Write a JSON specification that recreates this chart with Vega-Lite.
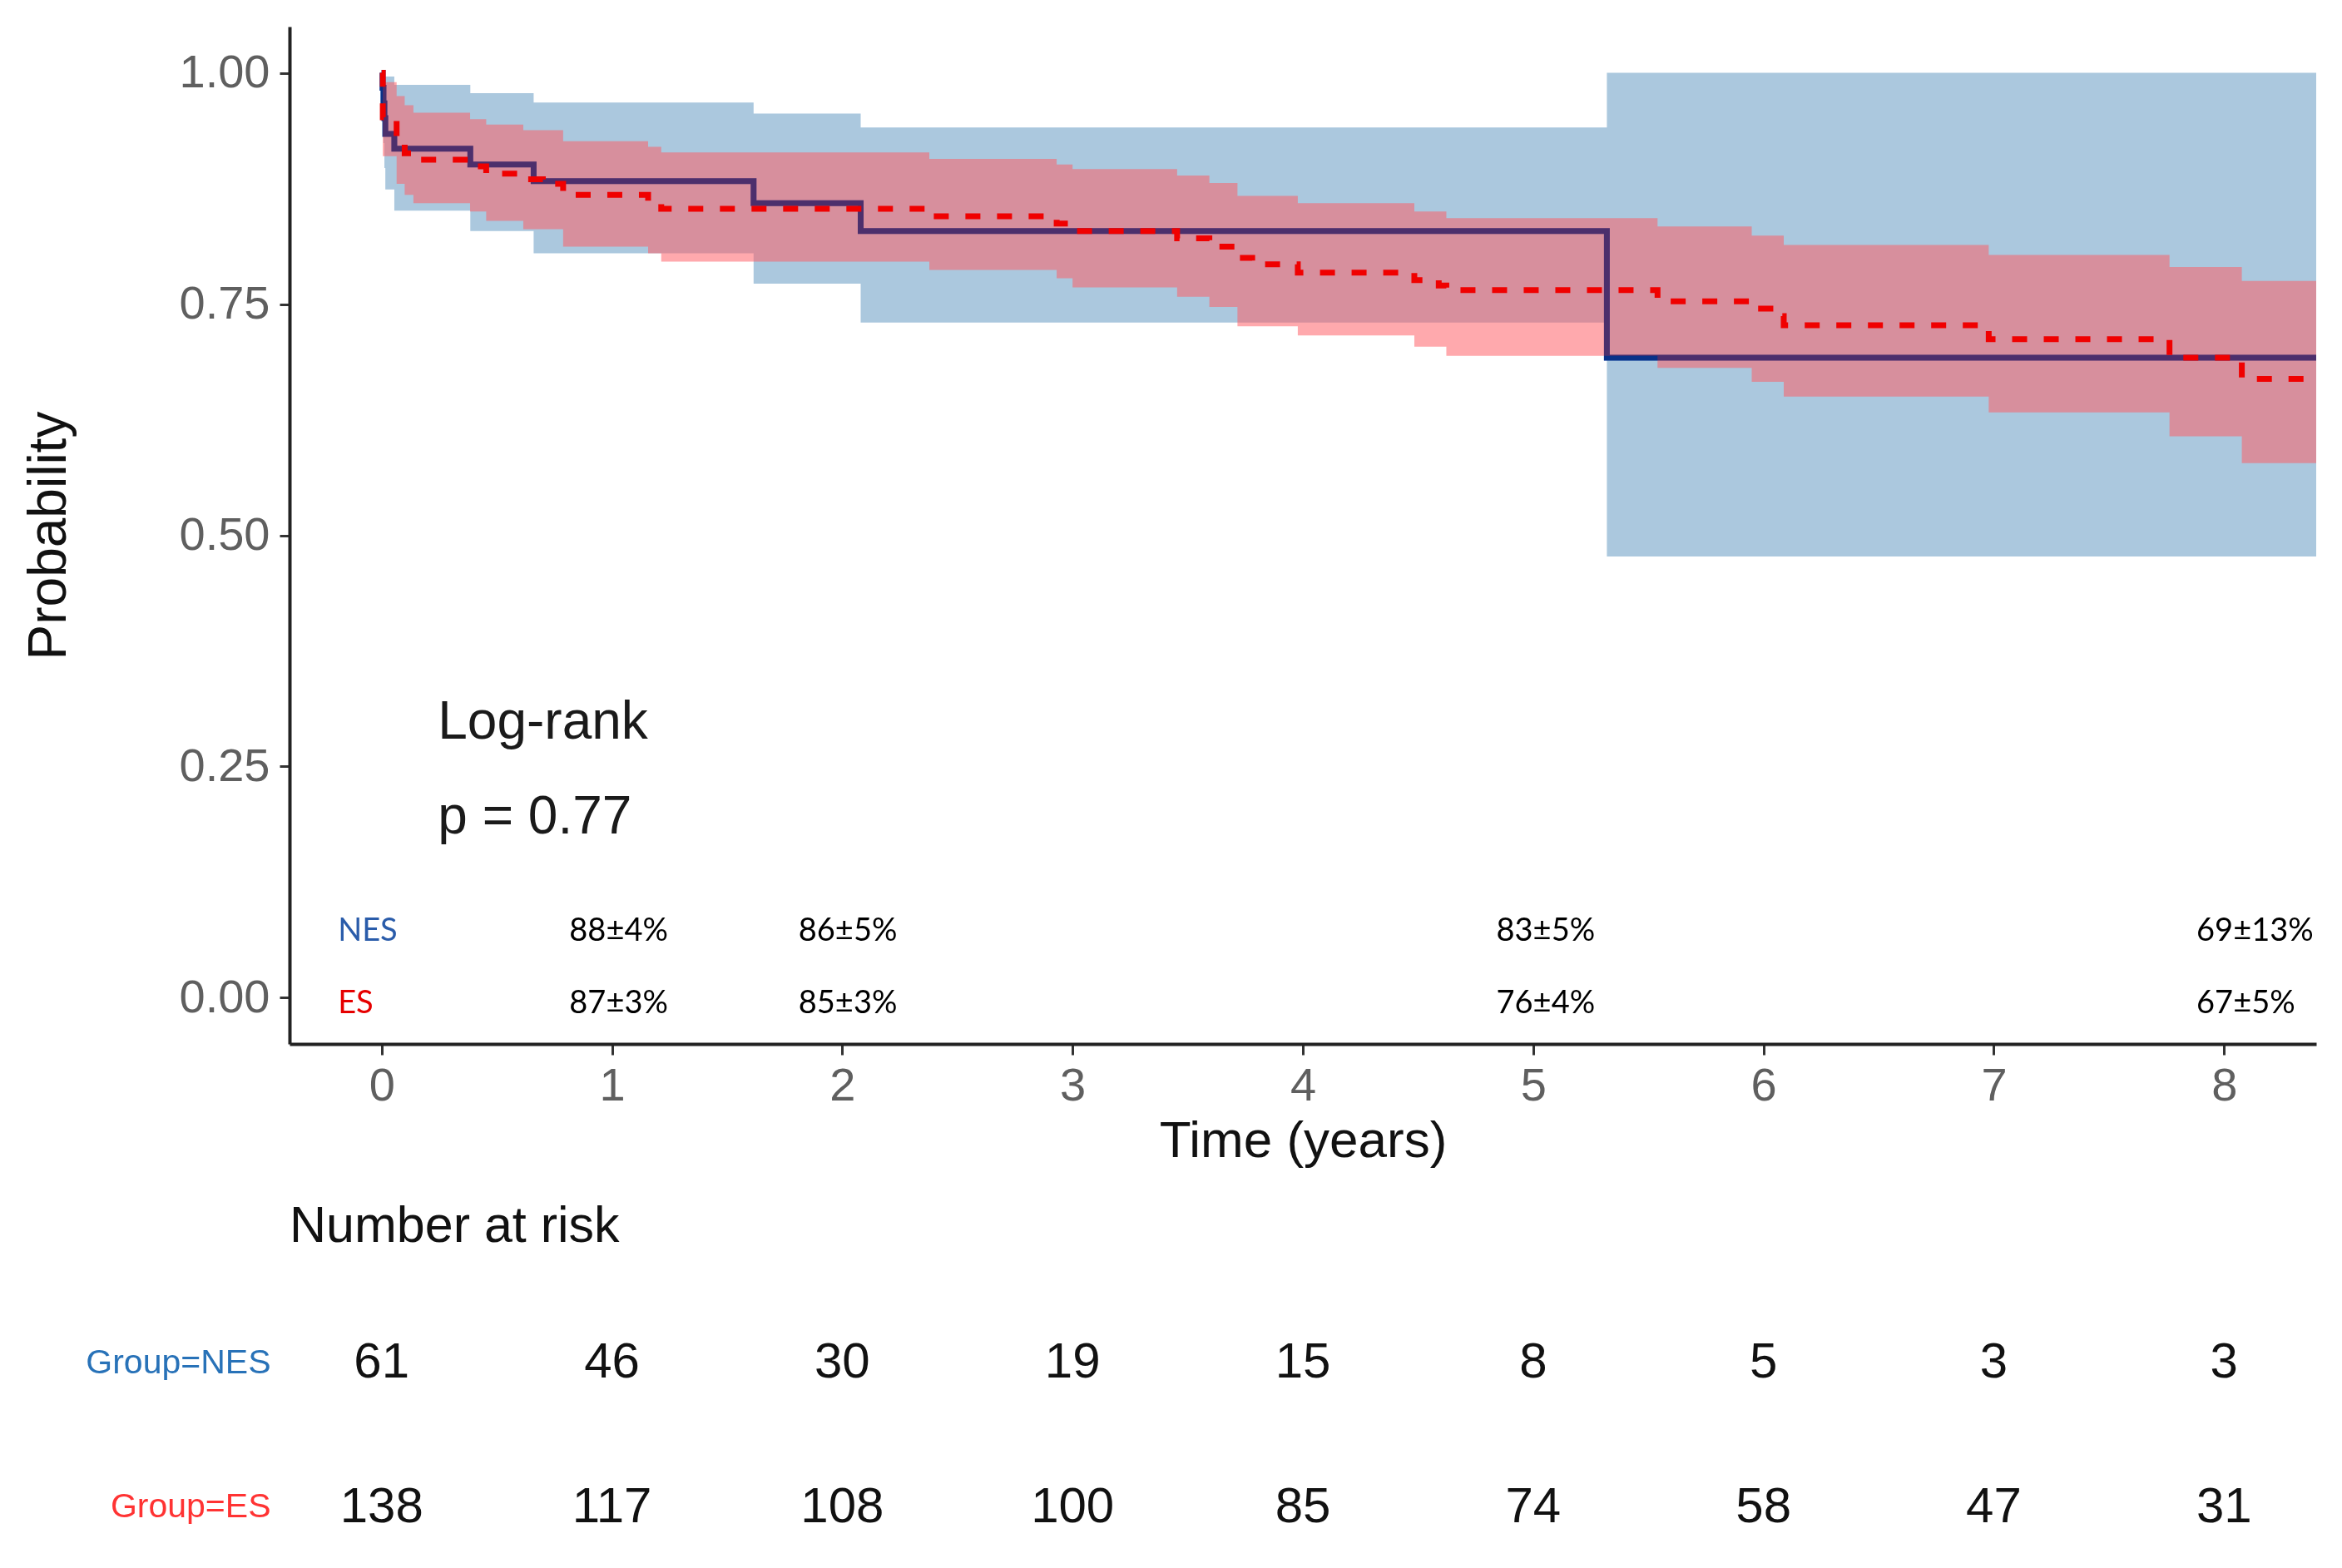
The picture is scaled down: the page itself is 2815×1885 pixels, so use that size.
{
  "$schema": "https://vega.github.io/schema/vega-lite/v6.json",
  "background": "white",
  "padding": {"left": 27, "top": 32, "right": 10, "bottom": 0},
  "bounds": "flush",
  "spacing": 330,
  "config": {
    "view": {"stroke": null},
    "font": "Liberation Sans",
    "axis": {"grid": false, "labelFont": "Liberation Sans", "titleFont": "Liberation Sans", "titleFontWeight": "normal"},
    "title": {"font": "Liberation Sans", "fontWeight": "normal"}
  },
  "datasets": {
    "nes": [
      {"t": 0.0, "s": 1.0, "lo": 1.0, "hi": 1.0},
      {"t": 0.004, "s": 0.984, "lo": 0.952, "hi": 1.0},
      {"t": 0.008, "s": 0.967, "lo": 0.924, "hi": 1.0},
      {"t": 0.012, "s": 0.951, "lo": 0.897, "hi": 1.0},
      {"t": 0.016, "s": 0.934, "lo": 0.874, "hi": 0.996},
      {"t": 0.055, "s": 0.918, "lo": 0.851, "hi": 0.987},
      {"t": 0.385, "s": 0.901, "lo": 0.829, "hi": 0.978},
      {"t": 0.66, "s": 0.883, "lo": 0.805, "hi": 0.968},
      {"t": 1.615, "s": 0.859, "lo": 0.772, "hi": 0.956},
      {"t": 2.08, "s": 0.829, "lo": 0.73, "hi": 0.941},
      {"t": 5.32, "s": 0.692, "lo": 0.477, "hi": 1.0},
      {"t": 8.4, "s": 0.692, "lo": 0.477, "hi": 1.0}
    ],
    "es": [
      {"t": 0.0, "s": 1.0, "lo": 1.0, "hi": 1.0},
      {"t": 0.005, "s": 0.952, "lo": 0.91, "hi": 0.99},
      {"t": 0.065, "s": 0.925, "lo": 0.88, "hi": 0.975},
      {"t": 0.1, "s": 0.913, "lo": 0.868, "hi": 0.965},
      {"t": 0.138, "s": 0.906, "lo": 0.859, "hi": 0.957},
      {"t": 0.384, "s": 0.899, "lo": 0.85, "hi": 0.95},
      {"t": 0.454, "s": 0.891, "lo": 0.84, "hi": 0.944},
      {"t": 0.615, "s": 0.885, "lo": 0.831, "hi": 0.938},
      {"t": 0.7, "s": 0.88, "lo": 0.831, "hi": 0.938},
      {"t": 0.788, "s": 0.868, "lo": 0.812, "hi": 0.926},
      {"t": 1.157, "s": 0.86, "lo": 0.805, "hi": 0.92},
      {"t": 1.214, "s": 0.853, "lo": 0.796, "hi": 0.914},
      {"t": 2.378, "s": 0.845, "lo": 0.787, "hi": 0.907},
      {"t": 2.931, "s": 0.837, "lo": 0.778, "hi": 0.901},
      {"t": 3.0, "s": 0.829, "lo": 0.768, "hi": 0.896},
      {"t": 3.454, "s": 0.821, "lo": 0.758, "hi": 0.889},
      {"t": 3.594, "s": 0.812, "lo": 0.747, "hi": 0.881},
      {"t": 3.716, "s": 0.8, "lo": 0.726, "hi": 0.867},
      {"t": 3.78, "s": 0.793, "lo": 0.726, "hi": 0.867},
      {"t": 3.978, "s": 0.784, "lo": 0.716, "hi": 0.859},
      {"t": 4.484, "s": 0.776, "lo": 0.704, "hi": 0.85},
      {"t": 4.59, "s": 0.77, "lo": 0.704, "hi": 0.85},
      {"t": 4.623, "s": 0.765, "lo": 0.694, "hi": 0.843},
      {"t": 5.54, "s": 0.753, "lo": 0.681, "hi": 0.834},
      {"t": 5.949, "s": 0.745, "lo": 0.666, "hi": 0.824},
      {"t": 6.03, "s": 0.737, "lo": 0.666, "hi": 0.824},
      {"t": 6.088, "s": 0.727, "lo": 0.65, "hi": 0.814},
      {"t": 6.978, "s": 0.712, "lo": 0.633, "hi": 0.803},
      {"t": 7.763, "s": 0.692, "lo": 0.607, "hi": 0.79},
      {"t": 8.077, "s": 0.669, "lo": 0.578, "hi": 0.775},
      {"t": 8.4, "s": 0.669, "lo": 0.578, "hi": 0.775}
    ],
    "notes": [
      {"t": 0.244, "y": 0.297, "label": "Log-rank"},
      {"t": 0.244, "y": 0.195, "label": "p = 0.77"}
    ],
    "labels": [
      {"t": -0.19, "y": 0.071, "label": "NES", "kind": "NES"},
      {"t": -0.19, "y": -0.007, "label": "ES", "kind": "ES"},
      {"t": 0.815, "y": 0.071, "label": "88±4%", "kind": "val"},
      {"t": 0.815, "y": -0.007, "label": "87±3%", "kind": "val"},
      {"t": 1.81, "y": 0.071, "label": "86±5%", "kind": "val"},
      {"t": 1.81, "y": -0.007, "label": "85±3%", "kind": "val"},
      {"t": 4.84, "y": 0.071, "label": "83±5%", "kind": "val"},
      {"t": 4.84, "y": -0.007, "label": "76±4%", "kind": "val"},
      {"t": 7.88, "y": 0.071, "label": "69±13%", "kind": "val"},
      {"t": 7.88, "y": -0.007, "label": "67±5%", "kind": "val"}
    ],
    "risk": [
      {"t": 0, "grp": "NES", "n": 61}, {"t": 1, "grp": "NES", "n": 46}, {"t": 2, "grp": "NES", "n": 30},
      {"t": 3, "grp": "NES", "n": 19}, {"t": 4, "grp": "NES", "n": 15}, {"t": 5, "grp": "NES", "n": 8},
      {"t": 6, "grp": "NES", "n": 5}, {"t": 7, "grp": "NES", "n": 3}, {"t": 8, "grp": "NES", "n": 3},
      {"t": 0, "grp": "ES", "n": 138}, {"t": 1, "grp": "ES", "n": 117}, {"t": 2, "grp": "ES", "n": 108},
      {"t": 3, "grp": "ES", "n": 100}, {"t": 4, "grp": "ES", "n": 85}, {"t": 5, "grp": "ES", "n": 74},
      {"t": 6, "grp": "ES", "n": 58}, {"t": 7, "grp": "ES", "n": 47}, {"t": 8, "grp": "ES", "n": 31}
    ]
  },
  "resolve": {"scale": {"x": "independent", "y": "independent"}},
  "vconcat": [
    {
      "width": 2436,
      "height": 1223,
      "layer": [
        {
          "data": {"name": "nes"},
          "mark": {"type": "area", "interpolate": "step-after", "color": "#0F62A1", "opacity": 0.35},
          "encoding": {
            "x": {"field": "t", "type": "quantitative", "title": "Time (years)",
              "scale": {"domain": [-0.4, 8.4], "nice": false, "zero": false},
              "axis": {"values": [0, 1, 2, 3, 4, 5, 6, 7, 8], "format": "d", "labelFontSize": 56, "labelColor": "#5f5f5f",
                "tickSize": 13, "tickWidth": 3, "tickColor": "#333333", "domainColor": "#222222", "domainWidth": 4,
                "labelPadding": 10, "titleFontSize": 62, "titleColor": "#111111", "titlePadding": 8}},
            "y": {"field": "lo", "type": "quantitative", "title": "Probability",
              "scale": {"domain": [-0.05, 1.05], "nice": false, "zero": false},
              "axis": {"values": [0, 0.25, 0.5, 0.75, 1], "format": ".2f", "labelFontSize": 56, "labelColor": "#5f5f5f",
                "tickSize": 12, "tickWidth": 3, "tickColor": "#333333", "domainColor": "#222222", "domainWidth": 4,
                "labelPadding": 12, "titleFontSize": 64, "titleColor": "#111111", "titlePadding": 124}},
            "y2": {"field": "hi"}
          }
        },
        {
          "data": {"name": "nes"},
          "mark": {"type": "line", "interpolate": "step-after", "color": "#0F62A1", "strokeWidth": 7},
          "encoding": {
            "x": {"field": "t", "type": "quantitative", "title": "Time (years)", "scale": {"domain": [-0.4, 8.4], "nice": false, "zero": false}},
            "y": {"field": "s", "type": "quantitative", "title": "Probability", "scale": {"domain": [-0.05, 1.05], "nice": false, "zero": false}}
          }
        },
        {
          "data": {"name": "es"},
          "mark": {"type": "area", "interpolate": "step-after", "color": "#FF5B62", "opacity": 0.52},
          "encoding": {
            "x": {"field": "t", "type": "quantitative", "title": "Time (years)", "scale": {"domain": [-0.4, 8.4], "nice": false, "zero": false}},
            "y": {"field": "lo", "type": "quantitative", "title": "Probability", "scale": {"domain": [-0.05, 1.05], "nice": false, "zero": false}},
            "y2": {"field": "hi"}
          }
        },
        {
          "data": {"name": "nes"},
          "mark": {"type": "line", "interpolate": "step-after", "color": "#8a80d8", "strokeWidth": 7, "blend": "multiply"},
          "encoding": {
            "x": {"field": "t", "type": "quantitative", "title": "Time (years)", "scale": {"domain": [-0.4, 8.4], "nice": false, "zero": false}},
            "y": {"field": "s", "type": "quantitative", "title": "Probability", "scale": {"domain": [-0.05, 1.05], "nice": false, "zero": false}}
          }
        },
        {
          "data": {"name": "es"},
          "mark": {"type": "line", "interpolate": "step-after", "color": "#F00000", "strokeWidth": 7, "strokeDash": [18, 20]},
          "encoding": {
            "x": {"field": "t", "type": "quantitative", "title": "Time (years)", "scale": {"domain": [-0.4, 8.4], "nice": false, "zero": false}},
            "y": {"field": "s", "type": "quantitative", "title": "Probability", "scale": {"domain": [-0.05, 1.05], "nice": false, "zero": false}}
          }
        },
        {
          "data": {"name": "notes"},
          "mark": {"type": "text", "align": "left", "baseline": "middle", "fontSize": 64, "font": "Liberation Sans", "color": "#1a1a1a"},
          "encoding": {
            "x": {"field": "t", "type": "quantitative", "title": "Time (years)", "scale": {"domain": [-0.4, 8.4], "nice": false, "zero": false}},
            "y": {"field": "y", "type": "quantitative", "title": "Probability", "scale": {"domain": [-0.05, 1.05], "nice": false, "zero": false}},
            "text": {"field": "label"}
          }
        },
        {
          "data": {"name": "labels"},
          "mark": {"type": "text", "align": "left", "baseline": "middle", "fontSize": 38, "font": "Lato"},
          "encoding": {
            "x": {"field": "t", "type": "quantitative", "title": "Time (years)", "scale": {"domain": [-0.4, 8.4], "nice": false, "zero": false}},
            "y": {"field": "y", "type": "quantitative", "title": "Probability", "scale": {"domain": [-0.05, 1.05], "nice": false, "zero": false}},
            "text": {"field": "label"},
            "color": {"field": "kind", "type": "nominal", "legend": null,
              "scale": {"domain": ["NES", "ES", "val"], "range": ["#2a5caa", "#e60000", "#000000"]}}
          }
        }
      ]
    },
    {
      "width": 2436,
      "height": 280,
      "title": {"text": "Number at risk", "anchor": "start", "frame": "group", "fontSize": 61, "color": "#111111", "offset": 79},
      "data": {"name": "risk"},
      "mark": {"type": "text", "fontSize": 60, "font": "Liberation Sans", "color": "#111111", "baseline": "middle"},
      "encoding": {
        "x": {"field": "t", "type": "quantitative", "scale": {"domain": [-0.4, 8.4], "nice": false, "zero": false}, "axis": null},
        "y": {"field": "grp", "type": "nominal", "sort": ["NES", "ES"], "title": null,
          "scale": {"type": "point", "padding": 0.309},
          "axis": {"ticks": false, "domain": false, "labelPadding": 23, "labelFontSize": 41, "labelLimit": 0,
            "labelExpr": "'Group=' + datum.value",
            "labelColor": {"condition": {"test": "datum.value == 'NES'", "value": "#2872b8"}, "value": "#ff3333"}}},
        "text": {"field": "n"}
      }
    }
  ]
}
